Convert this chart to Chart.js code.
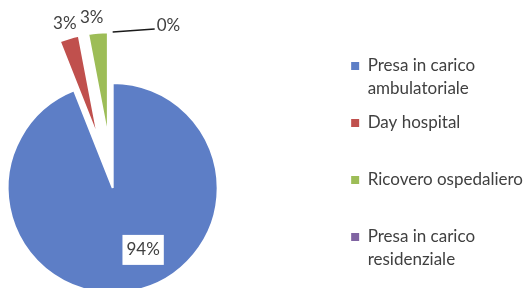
<!DOCTYPE html>
<html>
<head>
<meta charset="utf-8">
<script src="https://cdn.jsdelivr.net/npm/chart.js@4.4.1/dist/chart.umd.min.js"></script>
<style>
  html, body { margin: 0; padding: 0; background: #fff; overflow: hidden; }
  #page { width: 528px; height: 288px; position: relative; overflow: hidden; }
  /* chart is bigger than the window: the bottom of the pie is cut off like in the original */
  #wrap { position: absolute; left: -113px; top: 0; width: 646px; height: 376px; }
</style>
</head>
<body>
<div id="page"><div id="wrap"><canvas id="pieChart"></canvas></div></div>
<script>
// categories (two-line legend entries) and their shares in %
const categories = [
  ['Presa in carico', 'ambulatoriale'],
  ['Day hospital', ''],
  ['Ricovero ospedaliero', ''],
  ['Presa in carico', 'residenziale']
];
const shares = [94, 3, 3, 0];

const sliceColors = ['#5d7ec6', '#c0504d', '#9dbd57', '#8064a2'];
const explodeBy = [0, 51, 51, 51];
// where each percentage label sits, relative to its slice
const labelPlacement = [
  { at: 0.4545, r: 0.657, box: true },
  { r: 1.15 },
  { r: 1.15, turn: -2.3 },
  { r: 1.0, leader: [42, -3] }
];

// pull slices out of the pie like an exploded excel pie
const explodePlugin = {
  id: 'explode',
  afterDatasetUpdate(chart, args) {
    args.meta.data.forEach((arc, i) => {
      const d = explodeBy[i] || 0;
      if (!d) return;
      const mid = (arc.startAngle + arc.endAngle) / 2;
      arc.x += Math.cos(mid) * d;
      arc.y += Math.sin(mid) * d;
    });
  }
};

// percentage labels
const sliceLabels = {
  id: 'sliceLabels',
  afterDatasetsDraw(chart) {
    const ctx = chart.ctx;
    const meta = chart.getDatasetMeta(0);
    const data = chart.data.datasets[0].data;
    const total = data.reduce((a, b) => a + b, 0);
    ctx.save();
    ctx.font = '17px Lato';
    ctx.textBaseline = 'middle';
    meta.data.forEach((arc, i) => {
      const p = labelPlacement[i];
      const text = Math.round(data[i] / total * 100) + '%';
      const a = arc.startAngle + (arc.endAngle - arc.startAngle) * (p.at ?? 0.5) + (p.turn || 0) * Math.PI / 180;
      const r = arc.outerRadius * p.r;
      const x = arc.x + Math.cos(a) * r;
      const y = arc.y + Math.sin(a) * r;
      const w = ctx.measureText(text).width;
      ctx.fillStyle = '#404040';
      if (p.leader) {
        const ex = x + p.leader[0], ey = y + p.leader[1];
        ctx.strokeStyle = '#1a1a1a';
        ctx.lineWidth = 1.5;
        ctx.beginPath();
        ctx.moveTo(x, y);
        ctx.lineTo(ex, ey);
        ctx.stroke();
        ctx.textAlign = 'left';
        ctx.fillText(text, ex + 2, ey - 3.5);
        return;
      }
      ctx.textAlign = 'center';
      if (p.box) {
        ctx.fillStyle = '#fff';
        ctx.fillRect(x - w / 2 - 4, y - 15, w + 8, 30);
        ctx.fillStyle = '#404040';
      }
      ctx.fillText(text, x, y);
    });
    ctx.restore();
  }
};

Chart.defaults.font.family = 'Lato';
Chart.defaults.color = '#404040';

new Chart(document.getElementById('pieChart'), {
  type: 'pie',
  data: {
    labels: categories,
    datasets: [{
      data: shares,
      backgroundColor: sliceColors,
      borderColor: '#fff',
      borderWidth: 2
    }]
  },
  options: {
    responsive: true,
    maintainAspectRatio: false,
    animation: false,
    events: [],
    radius: 105,
    layout: { padding: 0 },
    plugins: {
      tooltip: { enabled: false },
      legend: {
        position: 'right',
        align: 'start',
        title: { display: true, text: '', padding: { top: 34.7, bottom: 0 }, font: { size: 10, lineHeight: 1 } },
        labels: {
          boxWidth: 8,
          boxHeight: 8,
          padding: 12.8,
          color: '#404040',
          font: { family: 'Lato', size: 17, lineHeight: 1.3 },
          generateLabels: chart => Chart.overrides.doughnut.plugins.legend.labels
            .generateLabels(chart).map(l => Object.assign(l, { lineWidth: 0 }))
        }
      }
    }
  },
  plugins: [explodePlugin, sliceLabels]
});
</script>
</body>
</html>
